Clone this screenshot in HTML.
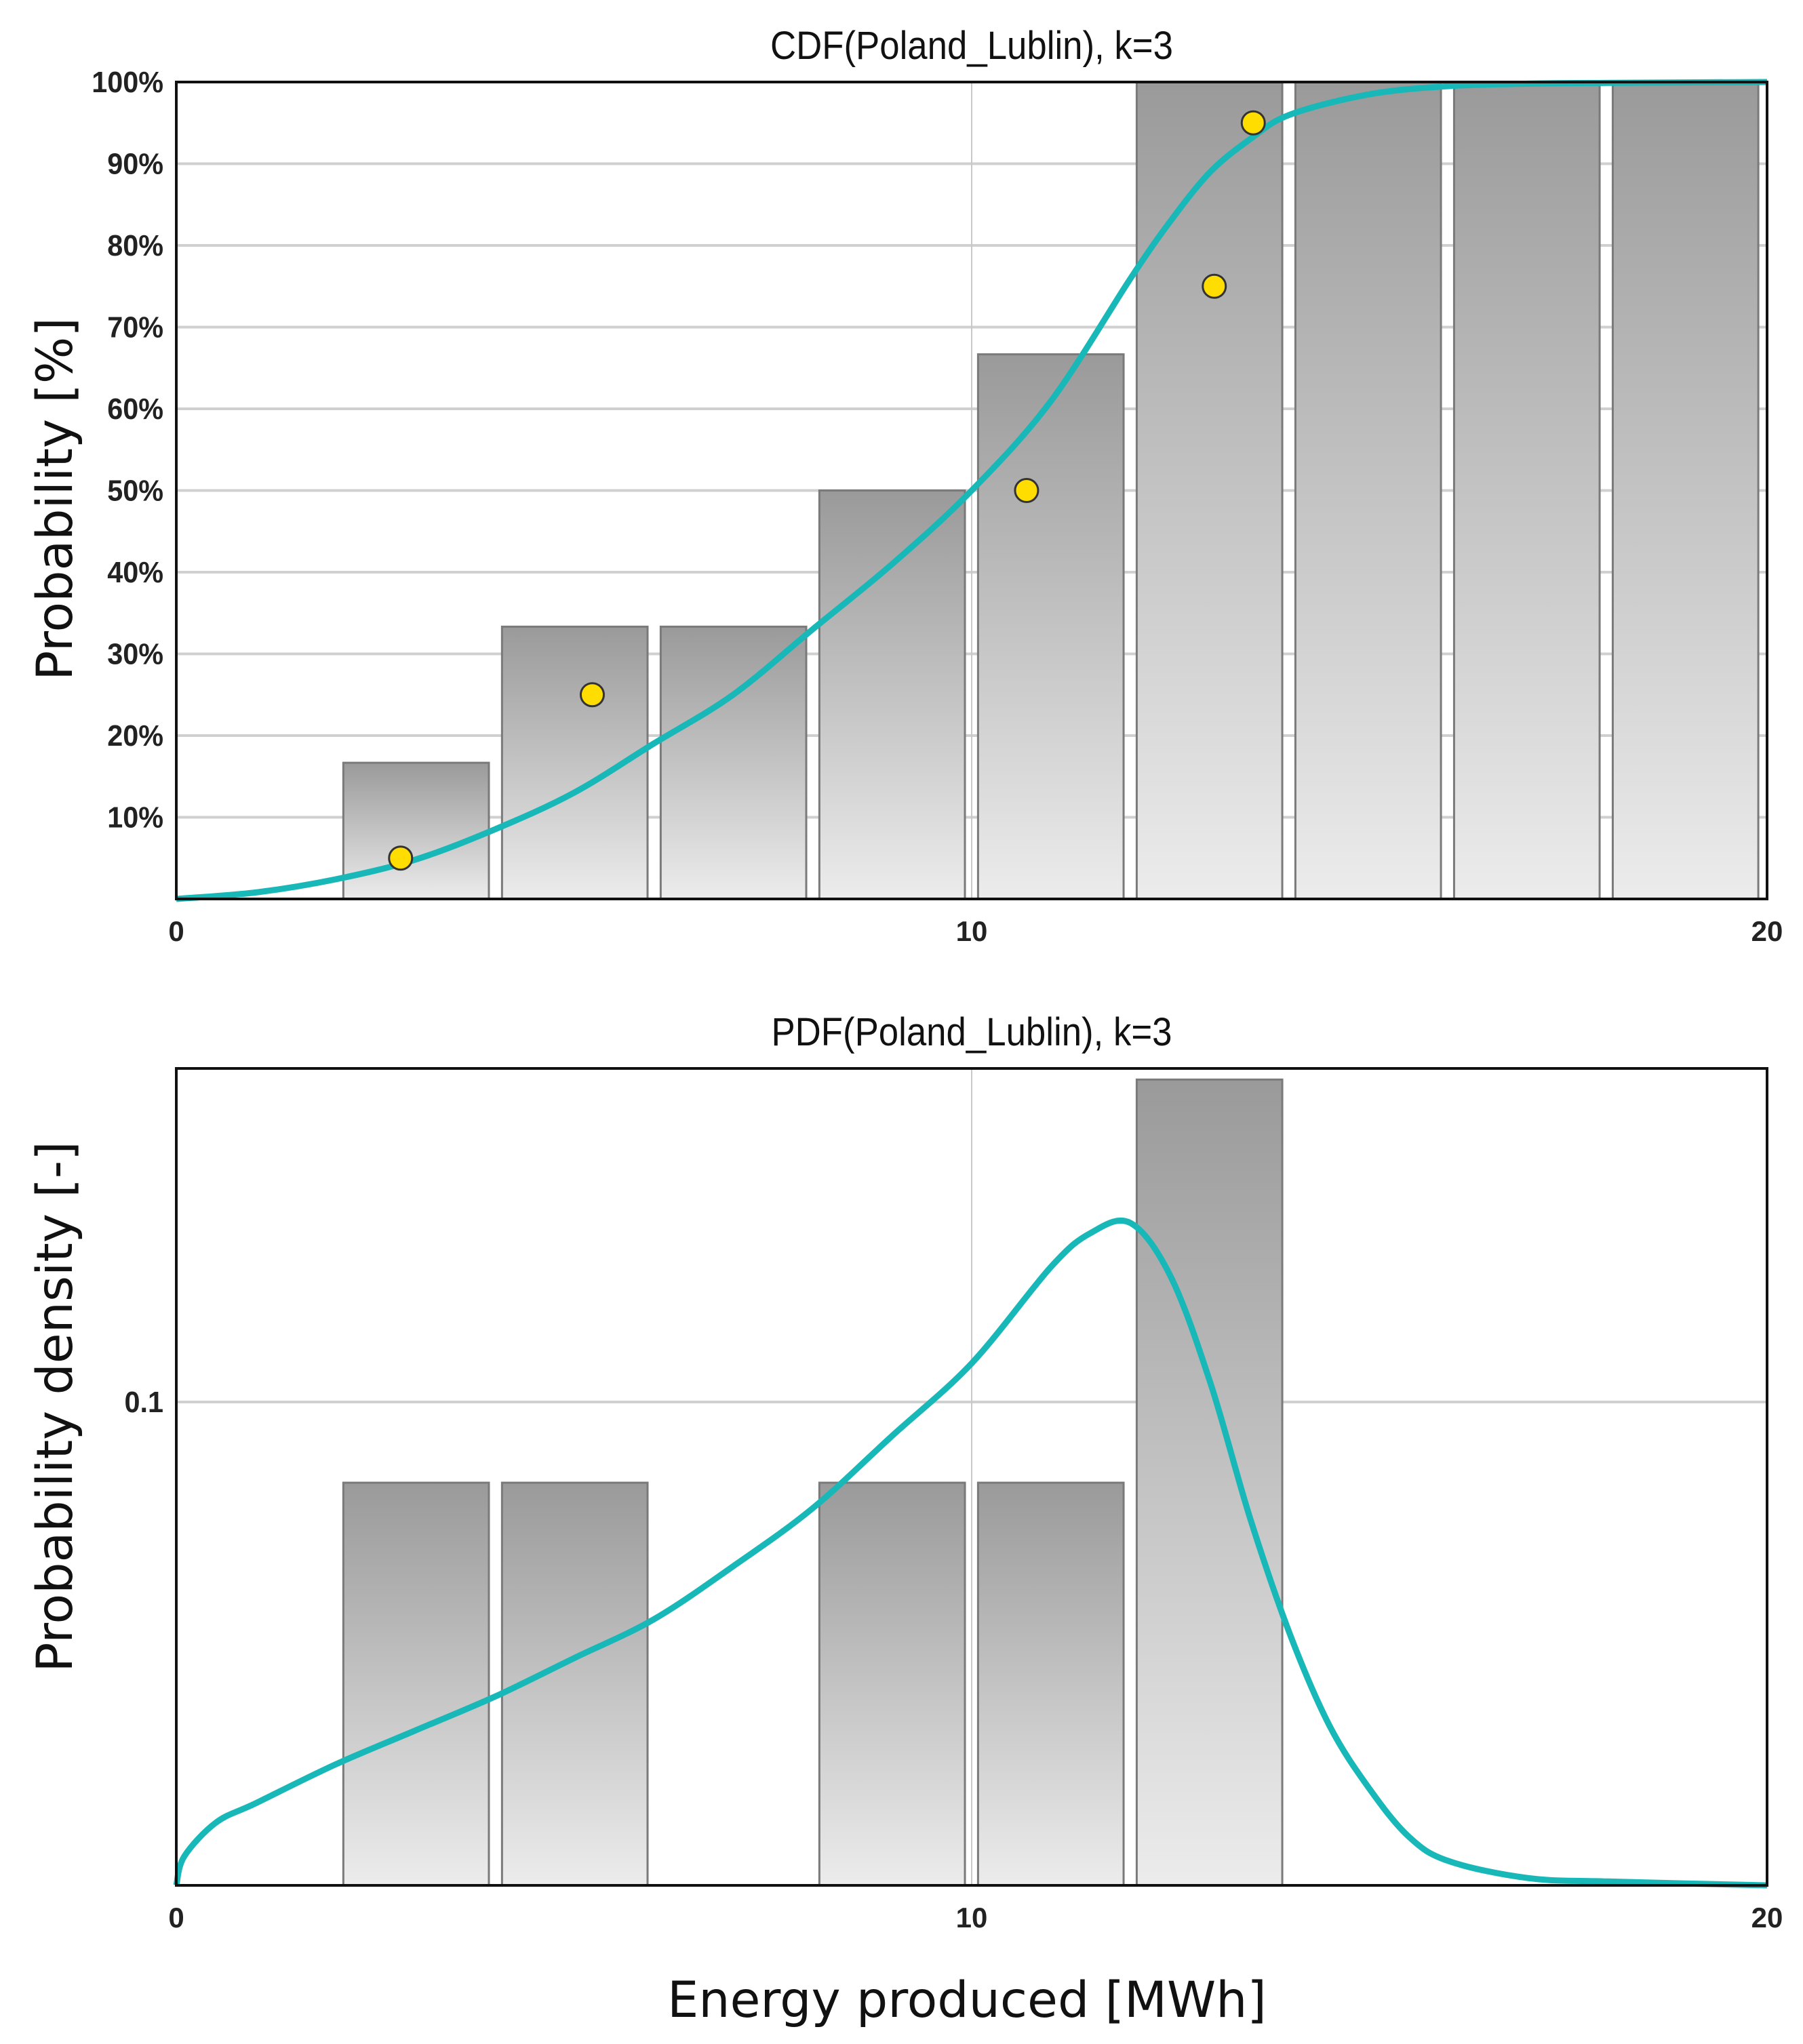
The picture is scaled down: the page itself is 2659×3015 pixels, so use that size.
<!DOCTYPE html>
<html><head><meta charset="utf-8"><style>html,body{margin:0;padding:0;background:#fff}svg{display:block}</style></head>
<body>
<svg id="chart" width="2659" height="3015" viewBox="0 0 2659 3015" xmlns="http://www.w3.org/2000/svg" font-family="'Liberation Sans', sans-serif">
<defs>
<linearGradient id="barg" x1="0" y1="0" x2="0" y2="1"><stop offset="0" stop-color="#9a9a9a"/><stop offset="1" stop-color="#ececec"/></linearGradient>
</defs>
<g id="top"></g>
<g id="bottom"></g>
<text x="1426" y="2975" font-family="'DejaVu Sans', sans-serif" font-size="73" text-anchor="middle" fill="#111">Energy produced [MWh]</text>
</svg>
<script>
const binStarts = [2.1,4.095,6.09,8.085,10.08,12.075,14.07,16.065,18.06];
const binWidth = 1.83;
const cdfBars = [0.1667,0.3333,0.3333,0.5,0.6667,1,1,1,1];
const pdfBars = [0.0833,0.0833,0,0.0833,0.0833,0.1667,0,0,0];
const pointsX = [2.82,5.23,10.69,13.05,13.54];
const pointsY = [0.05,0.25,0.5,0.75,0.95];
const cdfCurveX = [0,1,2,3,4,5,6,7,8,9,10,11,12,12.5,13,13.5,14,15,16,17,18,20];
const cdfCurveY = [0,0.008,0.024,0.048,0.085,0.13,0.19,0.25,0.33,0.41,0.5,0.61,0.76,0.83,0.89,0.93,0.96,0.985,0.995,0.998,0.999,1];
const pdfCurveX = [0,0.1,0.5,1,2,3,4,5,6,7,8,9,10,11,11.5,12,12.5,13,13.5,14,14.5,15,15.5,16,17,18,20];
const pdfCurveY = [0,0.006,0.013,0.017,0.025,0.032,0.039,0.047,0.055,0.066,0.078,0.093,0.108,0.128,0.135,0.137,0.126,0.104,0.076,0.052,0.033,0.02,0.01,0.005,0.0015,0.0008,0];
const cdfTicks = [0.1,0.2,0.3,0.4,0.5,0.6,0.7,0.8,0.9,1.0];
const cdfTickLabels = ['10%','20%','30%','40%','50%','60%','70%','80%','90%','100%'];
const pdfTicks = [0.1];
const pdfTickLabels = ['0.1'];
const xTicks = [0,10,20];

const NS='http://www.w3.org/2000/svg';
function mk(p,tag,a){const e=document.createElementNS(NS,tag);for(const k in a)e.setAttribute(k,a[k]);p.appendChild(e);return e;}
const L=260,R=2606;
const xs=v=>L+(R-L)*v/20;

function smoothPath(px,py){
  let d='M'+px[0].toFixed(1)+' '+py[0].toFixed(1);
  for(let i=0;i<px.length-1;i++){
    const x0=px[Math.max(i-1,0)],y0=py[Math.max(i-1,0)];
    const x1=px[i],y1=py[i],x2=px[i+1],y2=py[i+1];
    const x3=px[Math.min(i+2,px.length-1)],y3=py[Math.min(i+2,px.length-1)];
    const c1x=x1+(x2-x0)/6,c1y=y1+(y2-y0)/6,c2x=x2-(x3-x1)/6,c2y=y2-(y3-y1)/6;
    d+=`C${c1x.toFixed(1)} ${c1y.toFixed(1)} ${c2x.toFixed(1)} ${c2y.toFixed(1)} ${x2.toFixed(1)} ${y2.toFixed(1)}`;
  }
  return d;
}

function panel(g,top,bot,ymax,bars,cx,cy,ticks,labels,title,ytitle,ytitleY,pts){
  const ys=v=>bot-(bot-top)*v/ymax;
  const tx=(L+R)/2;
  let t=mk(g,'text',{x:tx,y:top-34,'font-size':58,'text-anchor':'middle',fill:'#111',transform:`translate(${tx} 0) scale(0.91 1) translate(${-tx} 0)`});t.textContent=title;
  
  
  ticks.forEach((v,i)=>{
    if(v<ymax*0.995){const gl=mk(g,'line',{x1:L,x2:R,y1:ys(v),y2:ys(v),stroke:'#d0d0d0','stroke-width':4});
    
    }
    const tl=mk(g,'text',{x:241,y:ys(v)+15,'font-size':44,'font-weight':'bold','text-anchor':'end',fill:'#222',transform:`translate(241 0) scale(0.94 1) translate(-241 0)`});tl.textContent=labels[i];
    
    
  });
  const vg=mk(g,'line',{x1:xs(10),x2:xs(10),y1:top,y2:bot,stroke:'#c8c8c8','stroke-width':2});
  
  
  bars.forEach((v,i)=>{ if(v<=0)return;
    const b=mk(g,'rect',{x:xs(binStarts[i]),y:ys(v),width:xs(binStarts[i]+binWidth)-xs(binStarts[i]),height:bot-ys(v),fill:'url(#barg)',stroke:'#7a7a7a','stroke-width':3});
    
    
  });
  const c=mk(g,'path',{d:smoothPath(cx.map(xs),cy.map(ys)),fill:'none',stroke:'#19b8b8','stroke-width':9,'stroke-linejoin':'round'});
  
  
  if(pts){pts[0].forEach((x,i)=>{const p=mk(g,'circle',{cx:xs(x),cy:ys(pts[1][i]),r:17,fill:'#ffdd00',stroke:'#333','stroke-width':3});
    
    });}
  const f=mk(g,'rect',{x:L,y:top,width:R-L,height:bot-top,fill:'none',stroke:'#111','stroke-width':4});
  
  
  xTicks.forEach(v=>{const xt=mk(g,'text',{x:xs(v),y:bot+62,'font-size':42,'font-weight':'bold','text-anchor':'middle',fill:'#222'});xt.textContent=v;
    
    });
  const yt=mk(g,'text',{x:0,y:0,'font-size':73,'font-family':"'DejaVu Sans', sans-serif",'text-anchor':'middle',fill:'#111',transform:`translate(106 ${ytitleY}) rotate(-90)`});yt.textContent=ytitle;
  
  
}
panel(document.getElementById('top'),121,1326,1.0,cdfBars,cdfCurveX,cdfCurveY,cdfTicks,cdfTickLabels,'CDF(Poland_Lublin), k=3','Probability [%]',736,[pointsX,pointsY]);
panel(document.getElementById('bottom'),1576,2781,0.169,pdfBars,pdfCurveX,pdfCurveY,pdfTicks,pdfTickLabels,'PDF(Poland_Lublin), k=3','Probability density [-]',2075,null);
</script>
</body></html>
